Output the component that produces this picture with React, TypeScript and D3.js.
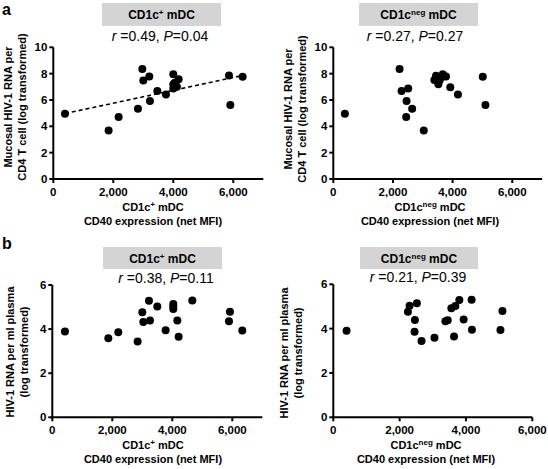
import React from "react";
import * as d3 from "d3";

// ---- Data ----
const aPosX = [389, 1844, 2178, 2822, 2967, 3000, 3200, 3222, 3467, 3756, 4000, 4000, 4000, 4120, 4178, 4050, 5856, 5900, 6311];
const aPosY = [4.96, 3.69, 4.71, 5.34, 8.35, 7.48, 7.79, 5.93, 6.69, 6.41, 7.96, 7.2, 6.87, 7.0, 7.58, 7.3, 7.86, 5.62, 7.76];
const aPosFit = [{ x: 389, y: 4.97 }, { x: 6311, y: 7.86 }];

const aNegX = [389, 2222, 2289, 2511, 2456, 2644, 2444, 3033, 3389, 3444, 3556, 3522, 3667, 3778, 3922, 4178, 5011, 5100, 3620];
const aNegY = [4.96, 8.35, 6.69, 6.87, 5.93, 5.34, 4.71, 3.69, 7.51, 7.84, 7.46, 7.2, 7.96, 7.79, 6.97, 6.41, 7.76, 5.62, 7.7];

const bPosX = [422, 1867, 2200, 2844, 3000, 3033, 3222, 3256, 3500, 3778, 4033, 4033, 4033, 4167, 4211, 4667, 5889, 5922, 6333];
const bPosY = [3.89, 3.58, 3.86, 3.44, 4.76, 4.32, 5.29, 4.39, 5.02, 3.95, 5.14, 5.03, 4.91, 4.39, 3.65, 5.3, 4.36, 4.79, 3.94];

const bNegX = [400, 2250, 2300, 2520, 2460, 2450, 2660, 3050, 3380, 3450, 3560, 3680, 3800, 3640, 3930, 4170, 4180, 5040, 5100];
const bNegY = [3.91, 4.76, 5.03, 5.14, 4.39, 3.86, 3.44, 3.59, 4.33, 4.38, 4.92, 5.02, 5.29, 3.65, 4.41, 5.3, 3.95, 3.94, 4.8];

const xTicksWide = [0, 2000, 4000, 6000];
const yTicksA = [0, 2, 4, 6, 8, 10];
const yTicksB = [0, 2, 4, 6];

const statsText = [
  { r: "0.49", p: "0.04" },
  { r: "0.27", p: "0.27" },
  { r: "0.38", p: "0.11" },
  { r: "0.21", p: "0.39" },
];

const FONT = "'Liberation Sans', Arial, sans-serif";

type PanelProps = {
  xs: number[];
  ys: number[];
  fit?: { x: number; y: number }[];
  xDomain: [number, number];
  xRange: [number, number];
  yDomain: [number, number];
  yRange: [number, number];
  yTicks: number[];
  xTicks: number[];
  sup: string;
  stats: { r: string; p: string };
  boxX: [number, number];
  boxY: [number, number];
  statsX: number;
  statsY: number;
  yTitle: string[];
  yTitleX: [number, number];
  yTitleCY: number;
  xTitleCX: number;
};

const Sup = ({ s }: { s: string }) => (
  <tspan fontSize={8} dy={-4}>{s}</tspan>
);

function Panel(p: PanelProps) {
  const x = d3.scaleLinear().domain(p.xDomain).range(p.xRange);
  const y = d3.scaleLinear().domain(p.yDomain).range(p.yRange);
  const fmt = d3.format(",");
  const x0 = p.xRange[0];
  const y0 = p.yRange[0];
  const line = d3
    .line<{ x: number; y: number }>()
    .x((d) => x(d.x))
    .y((d) => y(d.y));
  const bcx = (p.boxX[0] + p.boxX[1]) / 2;
  return (
    <g>
      <rect x={p.boxX[0]} y={p.boxY[0]} width={p.boxX[1] - p.boxX[0]} height={p.boxY[1] - p.boxY[0]} fill="#d4d4d4" />
      <text x={bcx} y={(p.boxY[0] + p.boxY[1]) / 2 + 4.5} textAnchor="middle" fontFamily={FONT} fontWeight="bold" fontSize={12}>
        CD1c<Sup s={p.sup} /><tspan dy={4}> mDC</tspan>
      </text>
      <text x={p.statsX} y={p.statsY} textAnchor="middle" fontFamily={FONT} fontSize={14}>
        <tspan fontStyle="italic">r</tspan>
        {" =" + p.stats.r + ", "}
        <tspan fontStyle="italic">P</tspan>
        {"=" + p.stats.p}
      </text>
      <line x1={x0} x2={x0} y1={y0 + 1} y2={p.yRange[1]} stroke="#000" strokeWidth={2} />
      <line x1={x0 - 1} x2={p.xRange[1]} y1={y0} y2={y0} stroke="#000" strokeWidth={2} />
      {p.yTicks.map((t) => (
        <g key={"y" + t}>
          <line x1={x0 - 4} x2={x0} y1={y(t)} y2={y(t)} stroke="#000" strokeWidth={2} />
          <text x={x0 - 6} y={y(t) + 4} textAnchor="end" fontFamily={FONT} fontWeight="bold" fontSize={11.5}>
            {t}
          </text>
        </g>
      ))}
      {p.xTicks.map((t) => (
        <g key={"x" + t}>
          <line x1={x(t)} x2={x(t)} y1={y0} y2={y0 + 4} stroke="#000" strokeWidth={2} />
          <text x={x(t)} y={y0 + 17} textAnchor="middle" fontFamily={FONT} fontWeight="bold" fontSize={11.5}>
            {fmt(t)}
          </text>
        </g>
      ))}
      <text x={p.xTitleCX} y={y0 + 32} textAnchor="middle" fontFamily={FONT} fontWeight="bold" fontSize={11}>
        CD1c<Sup s={p.sup} /><tspan dy={4}> mDC</tspan>
      </text>
      <text x={p.xTitleCX} y={y0 + 46} textAnchor="middle" fontFamily={FONT} fontWeight="bold" fontSize={11}>
        CD40 expression (net MFI)
      </text>
      {p.yTitle.map((s, i) => (
        <text
          key={s}
          transform={`translate(${p.yTitleX[i]},${p.yTitleCY}) rotate(-90)`}
          textAnchor="middle"
          fontFamily={FONT}
          fontWeight="bold"
          fontSize={11}
        >
          {s}
        </text>
      ))}
      {p.fit && (
        <path d={line(p.fit) || ""} fill="none" stroke="#000" strokeWidth={1.6} strokeDasharray="4,3" />
      )}
      {p.xs.map((v, i) => (
        <circle key={i} cx={x(v)} cy={y(p.ys[i])} r={4} fill="#000" />
      ))}
    </g>
  );
}

export default function App() {
  return (
    <svg width={548} height={469} style={{ position: "absolute", left: 0, top: 0, background: "#fff" }}>
      <rect width={548} height={469} fill="#fff" />
      <text x={2} y={15} fontFamily={FONT} fontWeight="bold" fontSize={16}>a</text>
      <text x={2} y={249} fontFamily={FONT} fontWeight="bold" fontSize={16}>b</text>
      <Panel
        xs={aPosX} ys={aPosY} fit={aPosFit}
        xDomain={[0, 7000]} xRange={[53.3, 263.3]}
        yDomain={[0, 10]} yRange={[179, 47.3]}
        yTicks={yTicksA} xTicks={xTicksWide} sup="+"
        stats={statsText[0]} boxX={[102, 221]} boxY={[3, 26]}
        statsX={160} statsY={41}
        yTitle={["Mucosal HIV-1 RNA per", "CD4 T cell (log transformed)"]}
        yTitleX={[12, 25.5]} yTitleCY={107} xTitleCX={153}
      />
      <Panel
        xs={aNegX} ys={aNegY}
        xDomain={[0, 7000]} xRange={[333.3, 542.1]}
        yDomain={[0, 10]} yRange={[179, 47.3]}
        yTicks={yTicksA} xTicks={xTicksWide} sup="neg"
        stats={statsText[1]} boxX={[359, 478]} boxY={[3, 26]}
        statsX={415} statsY={41}
        yTitle={["Mucosal HIV-1 RNA per", "CD4 T cell (log transformed)"]}
        yTitleX={[292, 305.5]} yTitleCY={109} xTitleCX={430}
      />
      <Panel
        xs={bPosX} ys={bPosY}
        xDomain={[0, 7000]} xRange={[52.3, 262.3]}
        yDomain={[0, 6]} yRange={[417.3, 285]}
        yTicks={yTicksB} xTicks={xTicksWide} sup="+"
        stats={statsText[2]} boxX={[103, 222]} boxY={[247, 269]}
        statsX={166} statsY={283}
        yTitle={["HIV-1 RNA per ml plasma", "(log transformed)"]}
        yTitleX={[14, 27.5]} yTitleCY={352} xTitleCX={153}
      />
      <Panel
        xs={bNegX} ys={bNegY}
        xDomain={[0, 6000]} xRange={[333.3, 532.3]}
        yDomain={[0, 6]} yRange={[417.3, 284.3]}
        yTicks={yTicksB} xTicks={xTicksWide} sup="neg"
        stats={statsText[3]} boxX={[360, 478]} boxY={[247, 269]}
        statsX={418} statsY={282}
        yTitle={["HIV-1 RNA per ml plasma", "(log transformed)"]}
        yTitleX={[288, 301.5]} yTitleCY={353} xTitleCX={426}
      />
    </svg>
  );
}
